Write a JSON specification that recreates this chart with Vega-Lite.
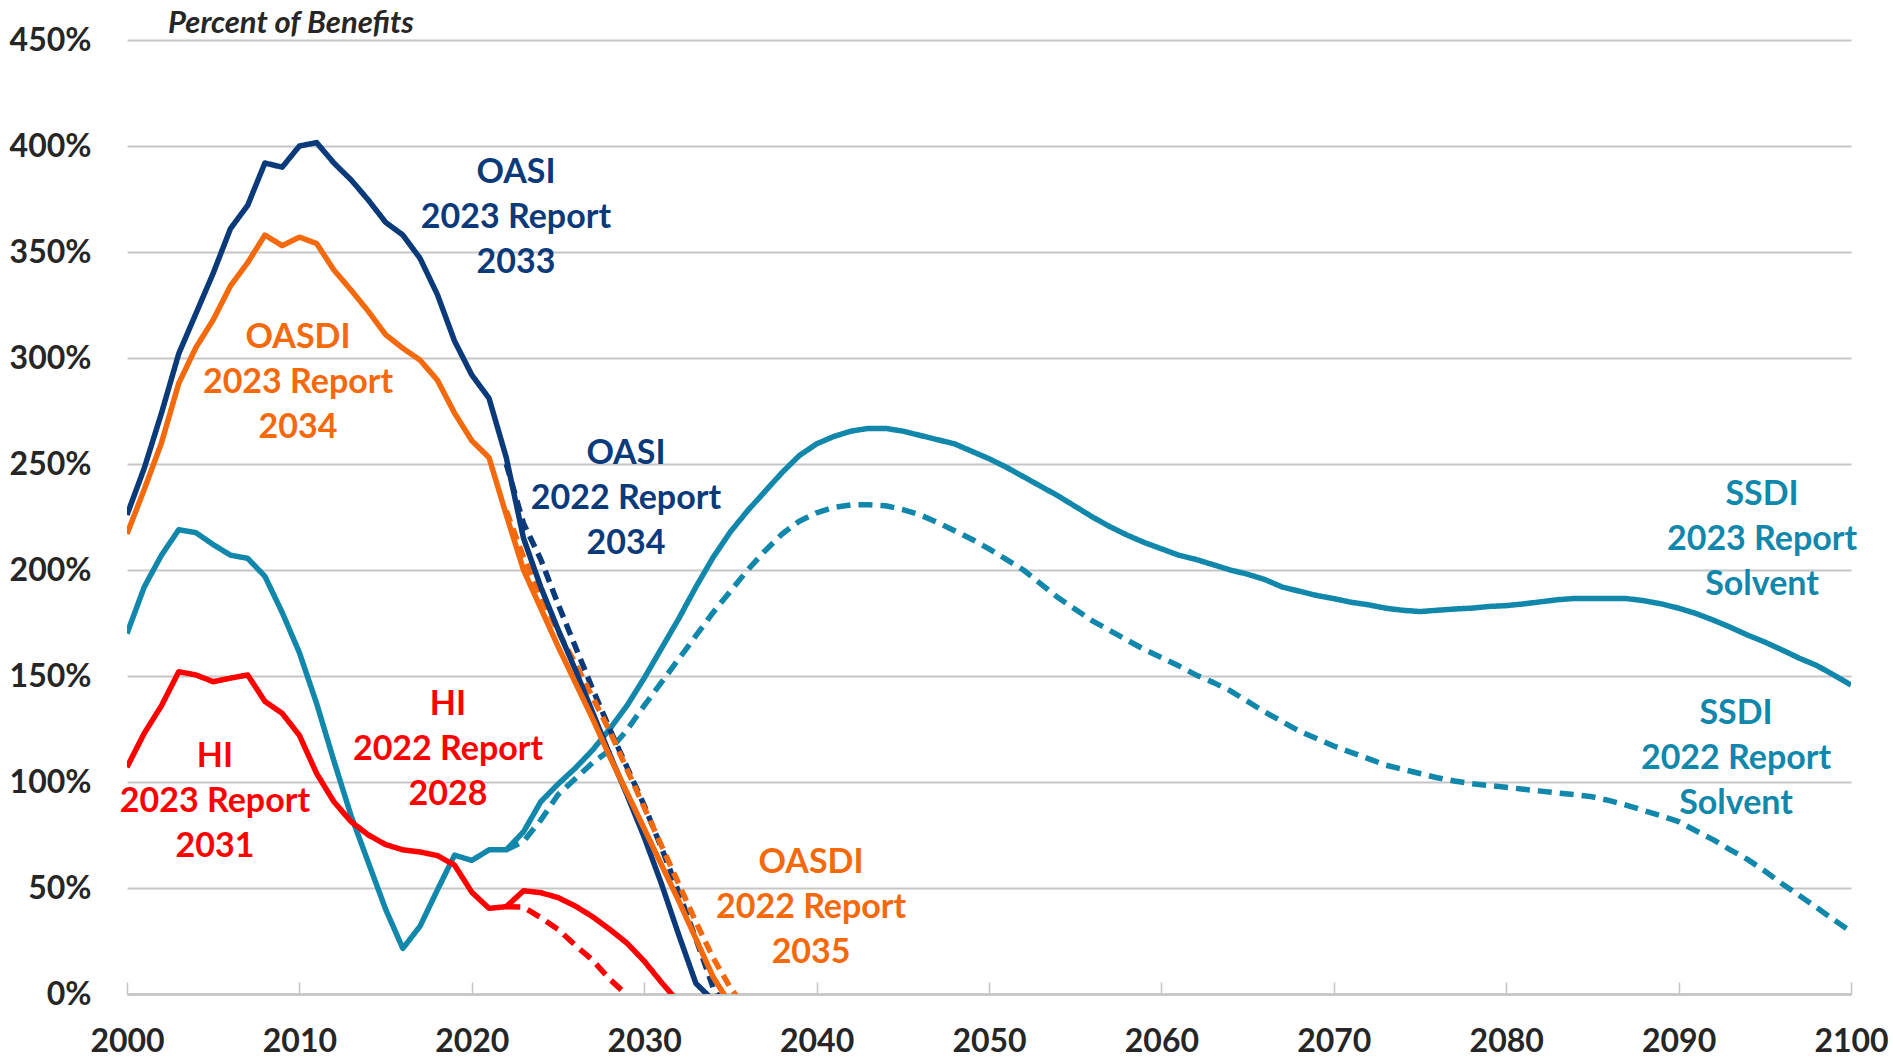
{
  "$schema": "https://vega.github.io/schema/vega-lite/v6.json",
  "width": 1724,
  "height": 954,
  "autosize": {"type": "none"},
  "padding": {"left": 127, "top": 40, "right": 42, "bottom": 67},
  "background": "white",
  "title": {"text": "Percent of Benefits", "anchor": "start", "frame": "group", "dx": 41, "dy": 40, "offset": 0, "baseline": "alphabetic", "font": "Lato", "fontSize": 31, "fontStyle": "italic", "fontWeight": "bold", "color": "#262626"},
  "config": {"view": {"stroke": null}},
  "datasets": {
    "series": [
      {"s":"SSDI22","year":2022,"pct":68},{"s":"SSDI22","year":2023,"pct":72},{"s":"SSDI22","year":2024,"pct":82},{"s":"SSDI22","year":2025,"pct":94},{"s":"SSDI22","year":2026,"pct":101.5},{"s":"SSDI22","year":2027,"pct":109},{"s":"SSDI22","year":2028,"pct":115},{"s":"SSDI22","year":2029,"pct":124.5},{"s":"SSDI22","year":2030,"pct":136},{"s":"SSDI22","year":2031,"pct":147},{"s":"SSDI22","year":2032,"pct":158},{"s":"SSDI22","year":2033,"pct":169},{"s":"SSDI22","year":2034,"pct":180},{"s":"SSDI22","year":2035,"pct":190},{"s":"SSDI22","year":2036,"pct":200},{"s":"SSDI22","year":2037,"pct":209},{"s":"SSDI22","year":2038,"pct":217},{"s":"SSDI22","year":2039,"pct":223},{"s":"SSDI22","year":2040,"pct":227},{"s":"SSDI22","year":2041,"pct":229.5},{"s":"SSDI22","year":2042,"pct":230.7},{"s":"SSDI22","year":2043,"pct":230.8},{"s":"SSDI22","year":2044,"pct":230.3},{"s":"SSDI22","year":2045,"pct":228.5},{"s":"SSDI22","year":2046,"pct":226},{"s":"SSDI22","year":2047,"pct":222.5},{"s":"SSDI22","year":2048,"pct":218.5},{"s":"SSDI22","year":2049,"pct":214.5},{"s":"SSDI22","year":2050,"pct":210},{"s":"SSDI22","year":2051,"pct":205},{"s":"SSDI22","year":2052,"pct":200},{"s":"SSDI22","year":2053,"pct":193.5},{"s":"SSDI22","year":2054,"pct":187},{"s":"SSDI22","year":2055,"pct":181.5},{"s":"SSDI22","year":2056,"pct":176},{"s":"SSDI22","year":2057,"pct":171.5},{"s":"SSDI22","year":2058,"pct":167},{"s":"SSDI22","year":2059,"pct":162.5},{"s":"SSDI22","year":2060,"pct":158.7},{"s":"SSDI22","year":2061,"pct":154.8},{"s":"SSDI22","year":2062,"pct":150.5},{"s":"SSDI22","year":2063,"pct":147},{"s":"SSDI22","year":2064,"pct":143},{"s":"SSDI22","year":2065,"pct":138},{"s":"SSDI22","year":2066,"pct":133},{"s":"SSDI22","year":2067,"pct":128.5},{"s":"SSDI22","year":2068,"pct":124},{"s":"SSDI22","year":2069,"pct":120.5},{"s":"SSDI22","year":2070,"pct":117},{"s":"SSDI22","year":2071,"pct":114},{"s":"SSDI22","year":2072,"pct":111},{"s":"SSDI22","year":2073,"pct":108},{"s":"SSDI22","year":2074,"pct":106},{"s":"SSDI22","year":2075,"pct":104},{"s":"SSDI22","year":2076,"pct":102},{"s":"SSDI22","year":2077,"pct":100.5},{"s":"SSDI22","year":2078,"pct":99.2},{"s":"SSDI22","year":2079,"pct":98.3},{"s":"SSDI22","year":2080,"pct":97.5},{"s":"SSDI22","year":2081,"pct":96.6},{"s":"SSDI22","year":2082,"pct":95.7},{"s":"SSDI22","year":2083,"pct":94.8},{"s":"SSDI22","year":2084,"pct":94},{"s":"SSDI22","year":2085,"pct":93},{"s":"SSDI22","year":2086,"pct":91.2},{"s":"SSDI22","year":2087,"pct":89},{"s":"SSDI22","year":2088,"pct":86.5},{"s":"SSDI22","year":2089,"pct":84},{"s":"SSDI22","year":2090,"pct":81.3},{"s":"SSDI22","year":2091,"pct":77},{"s":"SSDI22","year":2092,"pct":72.8},{"s":"SSDI22","year":2093,"pct":68},{"s":"SSDI22","year":2094,"pct":63.5},{"s":"SSDI22","year":2095,"pct":58},{"s":"SSDI22","year":2096,"pct":52},{"s":"SSDI22","year":2097,"pct":46.5},{"s":"SSDI22","year":2098,"pct":40.8},{"s":"SSDI22","year":2099,"pct":35},{"s":"SSDI22","year":2100,"pct":29.4},
      {"s":"SSDI23","year":2000,"pct":170},{"s":"SSDI23","year":2001,"pct":192},{"s":"SSDI23","year":2002,"pct":207},{"s":"SSDI23","year":2003,"pct":219},{"s":"SSDI23","year":2004,"pct":217.6},{"s":"SSDI23","year":2005,"pct":212},{"s":"SSDI23","year":2006,"pct":207},{"s":"SSDI23","year":2007,"pct":205.5},{"s":"SSDI23","year":2008,"pct":197},{"s":"SSDI23","year":2009,"pct":180},{"s":"SSDI23","year":2010,"pct":161},{"s":"SSDI23","year":2011,"pct":137},{"s":"SSDI23","year":2012,"pct":110},{"s":"SSDI23","year":2013,"pct":84},{"s":"SSDI23","year":2014,"pct":62},{"s":"SSDI23","year":2015,"pct":40},{"s":"SSDI23","year":2016,"pct":21.5},{"s":"SSDI23","year":2017,"pct":32},{"s":"SSDI23","year":2018,"pct":49},{"s":"SSDI23","year":2019,"pct":65.5},{"s":"SSDI23","year":2020,"pct":63},{"s":"SSDI23","year":2021,"pct":68},{"s":"SSDI23","year":2022,"pct":68},{"s":"SSDI23","year":2023,"pct":76.5},{"s":"SSDI23","year":2024,"pct":90.7},{"s":"SSDI23","year":2025,"pct":99},{"s":"SSDI23","year":2026,"pct":106.5},{"s":"SSDI23","year":2027,"pct":115},{"s":"SSDI23","year":2028,"pct":125},{"s":"SSDI23","year":2029,"pct":136},{"s":"SSDI23","year":2030,"pct":149},{"s":"SSDI23","year":2031,"pct":163},{"s":"SSDI23","year":2032,"pct":177},{"s":"SSDI23","year":2033,"pct":192},{"s":"SSDI23","year":2034,"pct":206},{"s":"SSDI23","year":2035,"pct":218},{"s":"SSDI23","year":2036,"pct":228},{"s":"SSDI23","year":2037,"pct":237},{"s":"SSDI23","year":2038,"pct":246},{"s":"SSDI23","year":2039,"pct":254},{"s":"SSDI23","year":2040,"pct":259.5},{"s":"SSDI23","year":2041,"pct":263},{"s":"SSDI23","year":2042,"pct":265.5},{"s":"SSDI23","year":2043,"pct":266.8},{"s":"SSDI23","year":2044,"pct":266.8},{"s":"SSDI23","year":2045,"pct":265.5},{"s":"SSDI23","year":2046,"pct":263.5},{"s":"SSDI23","year":2047,"pct":261.5},{"s":"SSDI23","year":2048,"pct":259.5},{"s":"SSDI23","year":2049,"pct":256},{"s":"SSDI23","year":2050,"pct":252.5},{"s":"SSDI23","year":2051,"pct":248.5},{"s":"SSDI23","year":2052,"pct":244},{"s":"SSDI23","year":2053,"pct":239.5},{"s":"SSDI23","year":2054,"pct":235},{"s":"SSDI23","year":2055,"pct":230},{"s":"SSDI23","year":2056,"pct":225},{"s":"SSDI23","year":2057,"pct":220.5},{"s":"SSDI23","year":2058,"pct":216.5},{"s":"SSDI23","year":2059,"pct":213},{"s":"SSDI23","year":2060,"pct":210},{"s":"SSDI23","year":2061,"pct":207},{"s":"SSDI23","year":2062,"pct":205},{"s":"SSDI23","year":2063,"pct":202.5},{"s":"SSDI23","year":2064,"pct":200},{"s":"SSDI23","year":2065,"pct":198},{"s":"SSDI23","year":2066,"pct":195.5},{"s":"SSDI23","year":2067,"pct":192},{"s":"SSDI23","year":2068,"pct":190},{"s":"SSDI23","year":2069,"pct":188},{"s":"SSDI23","year":2070,"pct":186.5},{"s":"SSDI23","year":2071,"pct":184.8},{"s":"SSDI23","year":2072,"pct":183.6},{"s":"SSDI23","year":2073,"pct":182},{"s":"SSDI23","year":2074,"pct":181},{"s":"SSDI23","year":2075,"pct":180.4},{"s":"SSDI23","year":2076,"pct":181},{"s":"SSDI23","year":2077,"pct":181.6},{"s":"SSDI23","year":2078,"pct":182},{"s":"SSDI23","year":2079,"pct":182.8},{"s":"SSDI23","year":2080,"pct":183.2},{"s":"SSDI23","year":2081,"pct":184},{"s":"SSDI23","year":2082,"pct":185},{"s":"SSDI23","year":2083,"pct":186},{"s":"SSDI23","year":2084,"pct":186.6},{"s":"SSDI23","year":2085,"pct":186.6},{"s":"SSDI23","year":2086,"pct":186.6},{"s":"SSDI23","year":2087,"pct":186.5},{"s":"SSDI23","year":2088,"pct":185.5},{"s":"SSDI23","year":2089,"pct":184},{"s":"SSDI23","year":2090,"pct":182},{"s":"SSDI23","year":2091,"pct":179.5},{"s":"SSDI23","year":2092,"pct":176.4},{"s":"SSDI23","year":2093,"pct":173},{"s":"SSDI23","year":2094,"pct":169.3},{"s":"SSDI23","year":2095,"pct":166},{"s":"SSDI23","year":2096,"pct":162.3},{"s":"SSDI23","year":2097,"pct":158.4},{"s":"SSDI23","year":2098,"pct":155},{"s":"SSDI23","year":2099,"pct":150.5},{"s":"SSDI23","year":2100,"pct":145.8},
      {"s":"HI22","year":2022,"pct":41.2},{"s":"HI22","year":2023,"pct":41},{"s":"HI22","year":2024,"pct":36},{"s":"HI22","year":2025,"pct":30.5},{"s":"HI22","year":2026,"pct":23},{"s":"HI22","year":2027,"pct":16},{"s":"HI22","year":2028,"pct":7},{"s":"HI22","year":2029,"pct":-0.5},
      {"s":"HI23","year":2000,"pct":107},{"s":"HI23","year":2001,"pct":123},{"s":"HI23","year":2002,"pct":136},{"s":"HI23","year":2003,"pct":152},{"s":"HI23","year":2004,"pct":150.5},{"s":"HI23","year":2005,"pct":147.3},{"s":"HI23","year":2006,"pct":149},{"s":"HI23","year":2007,"pct":150.5},{"s":"HI23","year":2008,"pct":138},{"s":"HI23","year":2009,"pct":132.4},{"s":"HI23","year":2010,"pct":122},{"s":"HI23","year":2011,"pct":104},{"s":"HI23","year":2012,"pct":90.7},{"s":"HI23","year":2013,"pct":81.3},{"s":"HI23","year":2014,"pct":75},{"s":"HI23","year":2015,"pct":70.5},{"s":"HI23","year":2016,"pct":68},{"s":"HI23","year":2017,"pct":67},{"s":"HI23","year":2018,"pct":65.3},{"s":"HI23","year":2019,"pct":60.8},{"s":"HI23","year":2020,"pct":48},{"s":"HI23","year":2021,"pct":40.4},{"s":"HI23","year":2022,"pct":41.2},{"s":"HI23","year":2023,"pct":48.7},{"s":"HI23","year":2024,"pct":47.8},{"s":"HI23","year":2025,"pct":45.5},{"s":"HI23","year":2026,"pct":41.5},{"s":"HI23","year":2027,"pct":36.5},{"s":"HI23","year":2028,"pct":30.5},{"s":"HI23","year":2029,"pct":24},{"s":"HI23","year":2030,"pct":15.5},{"s":"HI23","year":2031,"pct":5.5},{"s":"HI23","year":2032,"pct":-4},
      {"s":"OASI22","year":2022,"pct":250},{"s":"OASI22","year":2023,"pct":222},{"s":"OASI22","year":2024,"pct":205},{"s":"OASI22","year":2025,"pct":184},{"s":"OASI22","year":2026,"pct":164},{"s":"OASI22","year":2027,"pct":144},{"s":"OASI22","year":2028,"pct":125},{"s":"OASI22","year":2029,"pct":107},{"s":"OASI22","year":2030,"pct":89},{"s":"OASI22","year":2031,"pct":69},{"s":"OASI22","year":2032,"pct":48},{"s":"OASI22","year":2033,"pct":26},{"s":"OASI22","year":2034,"pct":3},{"s":"OASI22","year":2035,"pct":-10},
      {"s":"OASDI22","year":2022,"pct":228},{"s":"OASDI22","year":2023,"pct":206},{"s":"OASDI22","year":2024,"pct":188},{"s":"OASDI22","year":2025,"pct":171},{"s":"OASDI22","year":2026,"pct":156},{"s":"OASDI22","year":2027,"pct":140},{"s":"OASDI22","year":2028,"pct":124},{"s":"OASDI22","year":2029,"pct":106},{"s":"OASDI22","year":2030,"pct":88},{"s":"OASDI22","year":2031,"pct":70},{"s":"OASDI22","year":2032,"pct":52},{"s":"OASDI22","year":2033,"pct":34},{"s":"OASDI22","year":2034,"pct":17},{"s":"OASDI22","year":2035,"pct":3},{"s":"OASDI22","year":2036,"pct":-8},
      {"s":"OASI23","year":2000,"pct":226},{"s":"OASI23","year":2001,"pct":248},{"s":"OASI23","year":2002,"pct":274},{"s":"OASI23","year":2003,"pct":302},{"s":"OASI23","year":2004,"pct":321},{"s":"OASI23","year":2005,"pct":340},{"s":"OASI23","year":2006,"pct":361},{"s":"OASI23","year":2007,"pct":372},{"s":"OASI23","year":2008,"pct":392},{"s":"OASI23","year":2009,"pct":390},{"s":"OASI23","year":2010,"pct":400},{"s":"OASI23","year":2011,"pct":401.6},{"s":"OASI23","year":2012,"pct":392},{"s":"OASI23","year":2013,"pct":384},{"s":"OASI23","year":2014,"pct":374.5},{"s":"OASI23","year":2015,"pct":364},{"s":"OASI23","year":2016,"pct":358},{"s":"OASI23","year":2017,"pct":347},{"s":"OASI23","year":2018,"pct":330},{"s":"OASI23","year":2019,"pct":308},{"s":"OASI23","year":2020,"pct":292},{"s":"OASI23","year":2021,"pct":281},{"s":"OASI23","year":2022,"pct":253},{"s":"OASI23","year":2023,"pct":215},{"s":"OASI23","year":2024,"pct":192},{"s":"OASI23","year":2025,"pct":172},{"s":"OASI23","year":2026,"pct":153},{"s":"OASI23","year":2027,"pct":133},{"s":"OASI23","year":2028,"pct":113},{"s":"OASI23","year":2029,"pct":94},{"s":"OASI23","year":2030,"pct":74},{"s":"OASI23","year":2031,"pct":52},{"s":"OASI23","year":2032,"pct":28},{"s":"OASI23","year":2033,"pct":5},{"s":"OASI23","year":2034,"pct":-3},
      {"s":"OASDI23","year":2000,"pct":217},{"s":"OASDI23","year":2001,"pct":238},{"s":"OASDI23","year":2002,"pct":260},{"s":"OASDI23","year":2003,"pct":288},{"s":"OASDI23","year":2004,"pct":305},{"s":"OASDI23","year":2005,"pct":318},{"s":"OASDI23","year":2006,"pct":334},{"s":"OASDI23","year":2007,"pct":345},{"s":"OASDI23","year":2008,"pct":358},{"s":"OASDI23","year":2009,"pct":353},{"s":"OASDI23","year":2010,"pct":357},{"s":"OASDI23","year":2011,"pct":354},{"s":"OASDI23","year":2012,"pct":341.5},{"s":"OASDI23","year":2013,"pct":332},{"s":"OASDI23","year":2014,"pct":322},{"s":"OASDI23","year":2015,"pct":311},{"s":"OASDI23","year":2016,"pct":304.6},{"s":"OASDI23","year":2017,"pct":299},{"s":"OASDI23","year":2018,"pct":289.6},{"s":"OASDI23","year":2019,"pct":274},{"s":"OASDI23","year":2020,"pct":261},{"s":"OASDI23","year":2021,"pct":253},{"s":"OASDI23","year":2022,"pct":226},{"s":"OASDI23","year":2023,"pct":200},{"s":"OASDI23","year":2024,"pct":182},{"s":"OASDI23","year":2025,"pct":164},{"s":"OASDI23","year":2026,"pct":147},{"s":"OASDI23","year":2027,"pct":130},{"s":"OASDI23","year":2028,"pct":112},{"s":"OASDI23","year":2029,"pct":95},{"s":"OASDI23","year":2030,"pct":78},{"s":"OASDI23","year":2031,"pct":61},{"s":"OASDI23","year":2032,"pct":44},{"s":"OASDI23","year":2033,"pct":26},{"s":"OASDI23","year":2034,"pct":8},{"s":"OASDI23","year":2035,"pct":-5}
    ],
    "labels": [
      {"s":"OASI23","year":2022.56,"pct":366,"label":"OASI\n2023 Report\n2033"},
      {"s":"OASDI23","year":2009.92,"pct":288,"label":"OASDI\n2023 Report\n2034"},
      {"s":"OASI22","year":2028.94,"pct":233.5,"label":"OASI\n2022 Report\n2034"},
      {"s":"HI22","year":2018.62,"pct":115,"label":"HI\n2022 Report\n2028"},
      {"s":"HI23","year":2005.1,"pct":90.6,"label":"HI\n2023 Report\n2031"},
      {"s":"OASDI22","year":2039.68,"pct":40.6,"label":"OASDI\n2022 Report\n2035"},
      {"s":"SSDI23","year":2094.84,"pct":214,"label":"SSDI\n2023 Report\nSolvent"},
      {"s":"SSDI22","year":2093.33,"pct":110.8,"label":"SSDI\n2022 Report\nSolvent"}
    ]
  },
  "layer": [
    {
      "data": {"name": "series"},
      "mark": {"type": "line", "clip": true, "strokeJoin": "round"},
      "encoding": {
        "x": {"field": "year", "type": "quantitative", "scale": {"domain": [2000, 2100], "nice": false, "zero": false},
          "axis": {"values": [2000,2010,2020,2030,2040,2050,2060,2070,2080,2090,2100], "format": "d", "title": null, "grid": false,
            "domainColor": "#c4c4c4", "domainWidth": 2.5, "tickColor": "#c4c4c4", "tickWidth": 1.5, "tickSize": -12,
            "labelPadding": 44, "labelFont": "Lato", "labelFontSize": 32, "labelFontWeight": "bold", "labelColor": "#262626", "labelFlush": false}},
        "y": {"field": "pct", "type": "quantitative", "scale": {"domain": [0, 450], "nice": false},
          "axis": {"values": [0,50,100,150,200,250,300,350,400,450], "labelExpr": "datum.value + '%'", "title": null, "grid": true,
            "gridColor": "#c6c6c6", "gridWidth": 2, "domain": false, "ticks": false, "labelPadding": 36,
            "labelFont": "Lato", "labelFontSize": 32, "labelFontWeight": "bold", "labelColor": "#262626"}},
        "color": {"field": "s", "type": "nominal", "legend": null,
          "scale": {"domain": ["SSDI22","SSDI23","HI22","HI23","OASI22","OASDI22","OASI23","OASDI23"],
                    "range": ["#1187ac","#1187ac","#ff0000","#ff0000","#0b3a7a","#f4690c","#0b3a7a","#f4690c"]}},
        "strokeDash": {"field": "s", "type": "nominal", "legend": null,
          "scale": {"domain": ["SSDI22","SSDI23","HI22","HI23","OASI22","OASDI22","OASI23","OASDI23"],
                    "range": [[14,8],[1,0],[14,8],[1,0],[12,7],[12,7],[1,0],[1,0]]}},
        "strokeWidth": {"field": "s", "type": "nominal", "legend": null,
          "scale": {"domain": ["SSDI22","SSDI23","HI22","HI23","OASI22","OASDI22","OASI23","OASDI23"],
                    "range": [5.5,5.5,5.5,5.5,5.5,6,5,8]}}
      }
    },
    {
      "data": {"name": "labels"},
      "mark": {"type": "text", "font": "Lato", "fontSize": 34, "fontWeight": "bold", "lineHeight": 45, "lineBreak": "\n", "align": "center", "baseline": "middle", "dy": -45},
      "encoding": {
        "x": {"field": "year", "type": "quantitative"},
        "y": {"field": "pct", "type": "quantitative"},
        "text": {"field": "label", "type": "nominal"},
        "color": {"field": "s", "type": "nominal", "legend": null}
      }
    }
  ]
}
